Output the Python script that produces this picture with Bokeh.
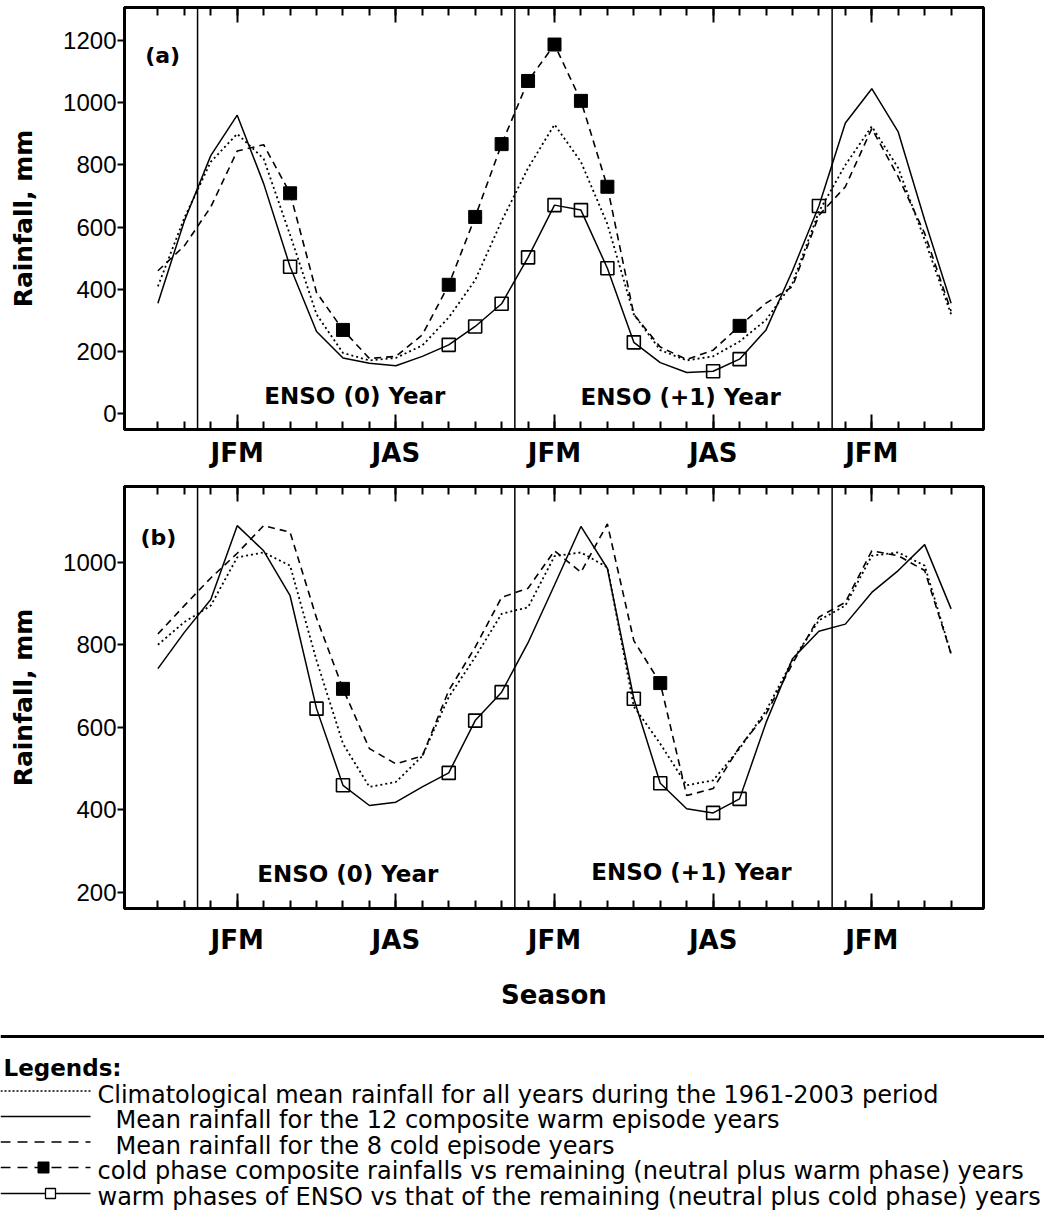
from bokeh.plotting import figure
from bokeh.models import Range1d, FixedTicker, LinearAxis, Span
from bokeh.layouts import column
from bokeh.embed import file_html
from bokeh.resources import INLINE
from bokeh.core.properties import value

# ---------------- data ----------------
month_idx = list(range(31))          # Nov(-1) ... May(+2), 3-month running seasons
season_ticks = [3, 9, 15, 21, 27]
season_labels = ["JFM", "JAS", "JFM", "JAS", "JFM"]
year_breaks = [1.5, 13.5, 25.5]

# panel (a)
climo_a = [410, 630, 810, 900, 820, 575, 320, 196, 172, 180, 220, 310, 430, 620, 790, 930,
           810, 610, 320, 205, 172, 185, 233, 302, 420, 650, 800, 924, 790, 560, 320]
warm_a = [356, 620, 830, 960, 740, 473, 265, 180, 163, 155, 185, 222, 281, 354, 503, 671,
          655, 468, 230, 165, 133, 137, 176, 270, 460, 668, 935, 1045, 906, 623, 356]
cold_a = [460, 540, 665, 845, 865, 709, 390, 270, 178, 185, 254, 415, 633, 867, 1070, 1187,
          1006, 730, 320, 215, 175, 205, 283, 356, 409, 638, 730, 917, 762, 580, 330]
cold_sig_a = [5, 7, 11, 12, 13, 14, 15, 16, 17, 22]
warm_sig_a = [5, 11, 12, 13, 14, 15, 16, 17, 18, 21, 22, 25]
yticks_a = [0, 200, 400, 600, 800, 1000, 1200]

# panel (b)
climo_b = [800, 855, 895, 1012, 1024, 992, 762, 560, 455, 467, 530, 673, 770, 875, 891, 1015,
           1024, 988, 650, 560, 459, 471, 548, 640, 762, 859, 895, 1016, 1024, 992, 778]
warm_b = [742, 830, 910, 1089, 1028, 919, 645, 459, 410, 418, 455, 489, 616, 685, 805, 945,
          1087, 985, 669, 464, 402, 392, 426, 611, 766, 833, 850, 927, 980, 1043, 887]
cold_b = [826, 895, 962, 1022, 1089, 1073, 865, 693, 548, 511, 530, 689, 794, 915, 937, 1028,
          976, 1093, 810, 707, 434, 451, 552, 632, 754, 867, 903, 1028, 1016, 980, 778]
cold_sig_b = [7, 19]
warm_sig_b = [6, 7, 11, 12, 13, 18, 19, 21, 22]
yticks_b = [200, 400, 600, 800, 1000]

legend_title = "Legends:"
legend_texts = [
    "Climatological mean rainfall for all years during the 1961-2003 period",
    "Mean rainfall for the 12 composite warm episode years",
    "Mean rainfall for the 8 cold episode years",
    "cold phase composite rainfalls vs remaining (neutral plus warm phase) years",
    "warm phases of ENSO vs that of the remaining (neutral plus cold phase) years",
]

BOLD = "DejaVu Sans"
X_RANGE = (-1.263, 31.225)

DOT = "2 3"
DASH = "7 5"


def make_panel(climo, warm, cold, cold_sig, warm_sig, yticks, yrange, height,
               top, bottom, tag, tag_pos, enso_pos, label_standoff, xlabel=None):
    p = figure(width=1044, height=height, x_range=Range1d(*X_RANGE),
               y_range=Range1d(*yrange), output_backend="svg", toolbar_location=None,
               min_border_left=124, min_border_right=61, min_border_top=top,
               min_border_bottom=bottom)
    p.grid.visible = False
    p.outline_line_color = "black"
    p.outline_line_width = 3
    p.background_fill_color = "white"
    p.border_fill_color = "white"

    ticker = FixedTicker(ticks=season_ticks, minor_ticks=month_idx)
    overrides = {t: l for t, l in zip(season_ticks, season_labels)}

    xa = p.xaxis[0]
    xa.ticker = ticker
    xa.major_label_overrides = overrides
    xa.major_tick_in = 15
    xa.major_tick_out = 0
    xa.minor_tick_in = 8
    xa.minor_tick_out = 0
    xa.major_tick_line_width = 2
    xa.minor_tick_line_width = 2
    xa.axis_line_width = 3
    xa.major_label_text_font = BOLD
    xa.major_label_text_font_style = "bold"
    xa.major_label_text_font_size = "26px"
    xa.major_label_text_color = "black"
    xa.major_label_standoff = label_standoff
    if xlabel:
        xa.axis_label = xlabel
        xa.axis_label_text_font = BOLD
        xa.axis_label_text_font_style = "bold"
        xa.axis_label_text_font_size = "26px"
        xa.axis_label_text_color = "black"
        xa.axis_label_standoff = 22

    top_ax = LinearAxis(ticker=FixedTicker(ticks=season_ticks, minor_ticks=month_idx),
                        major_label_overrides={t: "" for t in season_ticks},
                        major_label_text_font_size="1px", major_label_standoff=0,
                        major_tick_in=15, major_tick_out=0, minor_tick_in=8,
                        minor_tick_out=0, major_tick_line_width=2,
                        minor_tick_line_width=2, axis_line_width=3)
    p.add_layout(top_ax, "above")

    ya = p.yaxis[0]
    ya.ticker = FixedTicker(ticks=yticks, minor_ticks=[])
    ya.major_tick_in = 0
    ya.major_tick_out = 7
    ya.major_tick_line_width = 2
    ya.axis_line_width = 3
    ya.major_label_text_font = "Liberation Sans"
    ya.major_label_text_font_size = "24px"
    ya.major_label_text_color = "black"
    ya.major_label_standoff = 1
    ya.axis_label = "Rainfall, mm"
    ya.axis_label_text_font = BOLD
    ya.axis_label_text_font_style = "bold"
    ya.axis_label_text_font_size = "25px"
    ya.axis_label_text_color = "black"
    ya.axis_label_standoff = 22

    for b in year_breaks:
        p.add_layout(Span(location=b, dimension="height", line_color="black",
                          line_width=1.5))

    p.line(month_idx, climo, line_color="black", line_width=1.8, line_dash=DOT)
    p.line(month_idx, warm, line_color="black", line_width=1.5)
    p.line(month_idx, cold, line_color="black", line_width=1.6, line_dash=DASH)

    p.scatter([month_idx[i] for i in cold_sig], [cold[i] for i in cold_sig],
              marker="square", size=13, fill_color="black", line_color="black")
    p.scatter([month_idx[i] for i in warm_sig], [warm[i] for i in warm_sig],
              marker="square", size=13, fill_color=None, line_color="black",
              line_width=1.6)

    p.text(x=[tag_pos[0]], y=[tag_pos[1]], text=[tag], text_font=value(BOLD),
           text_font_style="bold", text_font_size="22px", text_align="center",
           text_baseline="middle", text_color="black")
    p.text(x=[enso_pos[0][0], enso_pos[1][0]], y=[enso_pos[0][1], enso_pos[1][1]],
           text=["ENSO (0) Year", "ENSO (+1) Year"], text_font=value(BOLD),
           text_font_style="bold", text_font_size="23px", text_align="center",
           text_baseline="middle", text_color="black")
    return p


pa = make_panel(climo_a, warm_a, cold_a, cold_sig_a, warm_sig_a, yticks_a,
                (-50, 1306), 470, 7, 40, "(a)", (0.18, 1152),
                [(7.45, 59), (19.77, 55)], 8)
pb = make_panel(climo_b, warm_b, cold_b, cold_sig_b, warm_sig_b, yticks_b,
                (160, 1184), 545, 16, 107, "(b)", (0.02, 1060),
                [(7.18, 243), (20.18, 248)], 16, xlabel="Season")

# ---------------- legend block ----------------
lg = figure(width=1044, height=200, x_range=Range1d(0, 1044), y_range=Range1d(1215, 1015),
            output_backend="svg", toolbar_location=None, x_axis_location=None,
            y_axis_location=None, min_border=0)
lg.frame_align = False
lg.grid.visible = False
lg.outline_line_color = None
lg.background_fill_color = "white"
lg.border_fill_color = "white"

lg.segment(x0=[0], y0=[1036], x1=[1044], y1=[1036], line_color="black", line_width=3)
lg.text(x=[3], y=[1067], text=[legend_title], text_font=value(BOLD), text_font_style="bold",
        text_font_size="23px", text_baseline="alphabetic", text_color="black")

baselines = [1094, 1119.5, 1145, 1170.5, 1196.5]
text_x = [97, 115, 115, 97, 97]
lg.text(x=text_x, y=baselines, text=legend_texts, text_font=value("DejaVu Sans"),
        text_font_size="24px", text_baseline="alphabetic", text_color="black")

sy = [b - 3.5 for b in baselines]
lg.line([0, 90], [sy[0], sy[0]], line_color="black", line_width=1.5, line_dash="2 2")
lg.line([0, 90], [sy[1], sy[1]], line_color="black", line_width=1.5)
lg.line([0, 90], [sy[2], sy[2]], line_color="black", line_width=1.5, line_dash="10 7")
lg.line([0, 90], [sy[3], sy[3]], line_color="black", line_width=1.5, line_dash="10 7")
lg.scatter([43], [sy[3]], marker="square", size=11, fill_color="black", line_color="black")
lg.line([0, 90], [sy[4], sy[4]], line_color="black", line_width=1.5)
lg.scatter([50], [sy[4]], marker="square", size=10, fill_color="white", line_color="black",
           line_width=1.3)

layout = column(pa, pb, lg, spacing=0)
open("out.html", "w").write(file_html(layout, INLINE))
